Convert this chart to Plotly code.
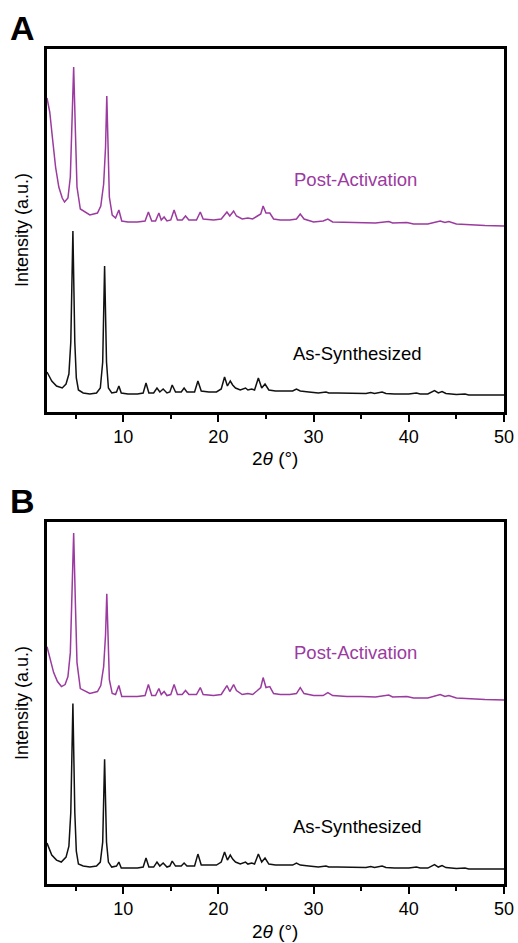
import plotly.graph_objects as go

# ---------------- data (2theta in degrees, intensity in a.u.) ----------------
a_syn_x = [2.0, 2.5, 3.0, 3.6, 4.0, 4.3, 4.5, 4.72, 4.92, 5.08, 5.3, 5.8, 6.5, 7.2, 7.6, 7.85, 8.05, 8.25, 8.45, 8.8,
           9.3, 9.55, 9.8, 10.5, 11.5, 12.1, 12.4, 12.7, 13.2, 13.55, 13.85, 14.2, 14.6, 14.9, 15.15, 15.5, 16.1, 16.4,
           16.7, 17.5, 17.85, 18.2, 19.0, 19.8, 20.3, 20.65, 20.95, 21.25, 21.5, 21.8, 22.3, 22.85, 23.1, 23.5, 23.8,
           24.2, 24.55, 24.9, 25.3, 26.0, 27.0, 27.8, 28.2, 28.6, 29.5, 30.5, 31.3, 31.6, 32.5, 34.0, 35.5, 36.0, 36.4,
           37.2, 37.6, 38.5, 40.0, 40.8, 41.2, 42.0, 42.7, 43.1, 43.5, 43.9, 45.0, 45.9, 46.3, 48.0, 50.0]
a_syn_y = [40, 31, 26, 24, 28, 38, 70, 181, 70, 34, 22, 19, 18, 19, 24, 50, 146, 50, 24, 19,
           20, 26, 19, 18, 18, 19, 29, 19, 19, 24, 20, 23, 19, 20, 27, 20, 20, 24,
           20, 20, 31, 21, 20, 20, 23, 35, 26, 31, 27, 24, 22, 24, 22, 23, 22,
           34, 24, 28, 22, 21, 21, 21, 23, 21, 20, 19, 20, 19, 19, 18.5, 18.5, 19.5, 18.5,
           20, 18.5, 18, 18, 19, 18, 18, 21.5, 19, 20.5, 18.5, 17.5, 18, 17, 17, 17]

a_act_x = [2.0, 2.29, 2.55, 2.9, 3.24, 3.6, 3.84, 4.2, 4.45, 4.6, 4.8, 5.0, 5.15, 5.5, 6.5, 7.3, 7.65, 7.95, 8.15, 8.28,
           8.42, 8.55, 8.85, 9.2, 9.55, 9.85, 10.5, 11.5, 12.3, 12.65, 13.0, 13.4, 13.75, 14.0, 14.3, 14.6, 15.0, 15.35,
           15.7, 16.2, 16.55, 16.9, 17.7, 18.1, 18.4, 19.5, 20.3, 20.9, 21.2, 21.6, 21.9, 22.5, 23.1, 23.6, 24.1,
           24.45, 24.7, 25.0, 25.4, 25.8, 26.5, 27.5, 28.2, 28.6, 29.0, 30.0, 31.0, 31.5, 32.0, 33.5, 35.0, 36.5,
           37.9, 38.3, 39.8, 40.5, 42.0, 43.3, 43.8, 44.2, 45.0, 46.5, 48.0, 50.0]
a_act_y = [314, 300, 276, 245, 225, 214, 210, 214, 235, 275, 345, 275, 225, 203, 197, 199, 206, 228, 265, 316,
           262, 215, 197, 194, 202, 191, 190, 190, 191, 200, 191, 191, 199, 192, 195, 191, 192, 202,
           192, 192, 196, 192, 192, 200, 193, 192, 193, 200, 196, 201, 196, 193, 194, 193, 196,
           198, 206, 199, 199, 193, 192, 192, 193, 198, 193, 190, 191, 193, 190, 189.5, 189.5, 189,
           190.5, 189, 189.5, 188, 188, 191, 189.5, 190.5, 188, 187, 186.5, 186]

b_syn_x = [2.0, 2.5, 3.0, 3.5, 4.0, 4.3, 4.5, 4.72, 4.92, 5.08, 5.3, 5.8, 6.5, 7.2, 7.6, 7.85, 8.05, 8.25, 8.45, 8.8,
           9.3, 9.55, 9.8, 10.5, 11.5, 12.1, 12.4, 12.7, 13.2, 13.55, 13.85, 14.2, 14.6, 14.9, 15.15, 15.5, 16.1, 16.4,
           16.7, 17.5, 17.85, 18.2, 19.0, 19.8, 20.3, 20.65, 20.95, 21.25, 21.5, 21.8, 22.3, 22.85, 23.1, 23.5, 23.8,
           24.2, 24.55, 24.9, 25.3, 26.0, 27.0, 27.8, 28.2, 28.6, 29.5, 30.5, 31.3, 31.6, 32.5, 34.0, 35.5, 36.0, 36.4,
           37.2, 37.6, 38.5, 40.0, 40.8, 41.2, 42.0, 42.7, 43.1, 43.5, 43.9, 45.0, 45.9, 46.3, 48.0, 50.0]
b_syn_y = [41, 29, 24, 22, 27, 38, 72, 181, 72, 33, 20, 18, 17, 18, 22, 42, 125, 42, 22, 17,
           18, 22, 16, 16, 16, 17, 26, 17, 17, 22, 18, 21, 17, 18, 23, 18, 18, 21,
           18, 18, 30, 19, 19, 19, 22, 32, 24, 29, 25, 22, 20, 22, 20, 21, 20,
           30, 22, 26, 20, 19, 19, 19, 21, 19, 18, 17, 18, 17, 17, 16.5, 16.5, 17.5, 16.5,
           18, 16.5, 16, 16, 17, 16, 16, 19.5, 17, 18.5, 16.5, 15.5, 16, 15, 15, 15]

b_act_x = [2.0, 2.3, 2.7, 3.1, 3.52, 3.9, 4.2, 4.45, 4.6, 4.8, 5.0, 5.15, 5.5, 6.5, 7.3, 7.65, 7.95, 8.15, 8.28,
           8.42, 8.55, 8.85, 9.2, 9.55, 9.85, 10.5, 11.5, 12.3, 12.65, 13.0, 13.4, 13.75, 14.0, 14.3, 14.6, 15.0, 15.35,
           15.7, 16.2, 16.55, 16.9, 17.7, 18.1, 18.4, 19.5, 20.3, 20.9, 21.2, 21.6, 21.9, 22.5, 23.1, 23.6, 24.1,
           24.45, 24.7, 25.0, 25.4, 25.8, 26.5, 27.5, 28.2, 28.6, 29.0, 30.0, 31.0, 31.5, 32.0, 33.5, 35.0, 36.5,
           37.9, 38.3, 39.8, 40.5, 42.0, 43.3, 43.8, 44.2, 45.0, 46.5, 48.0, 50.0]
b_act_y = [238, 226, 212, 203, 198, 200, 208, 232, 275, 352, 275, 222, 196, 191, 193, 199, 218, 250, 291,
           245, 205, 191, 190, 199, 188, 188, 188, 189, 200, 189, 189, 196, 190, 193, 189, 190, 200,
           190, 190, 194, 190, 190, 197, 190, 189, 190, 199, 193, 200, 194, 190, 191, 190, 194,
           197, 207, 197, 198, 191, 190, 190, 191, 197, 191, 189, 189, 192, 189, 188, 188, 187.5,
           189.5, 187.5, 188, 186.5, 186.5, 190, 188, 189, 186.5, 185.5, 185, 184.5]

x_ticks = [10, 20, 30, 40, 50]
x_minor = [5, 15, 25, 35, 45]
purple = "#9b3a9f"
black = "#111111"
font_family = "Liberation Sans, Arial, sans-serif"

fig = go.Figure()
fig.add_trace(go.Scatter(x=a_act_x, y=a_act_y, mode="lines", line=dict(color=purple, width=1.5),
                         xaxis="x", yaxis="y", showlegend=False))
fig.add_trace(go.Scatter(x=a_syn_x, y=a_syn_y, mode="lines", line=dict(color=black, width=1.5),
                         xaxis="x", yaxis="y", showlegend=False))
fig.add_trace(go.Scatter(x=b_act_x, y=b_act_y, mode="lines", line=dict(color=purple, width=1.5),
                         xaxis="x2", yaxis="y2", showlegend=False))
fig.add_trace(go.Scatter(x=b_syn_x, y=b_syn_y, mode="lines", line=dict(color=black, width=1.5),
                         xaxis="x2", yaxis="y2", showlegend=False))

W, H = 518, 943
xd = [47 / W, 504 / W]
ya = [1 - 412 / H, 1 - 49 / H]
yb = [1 - 884 / H, 1 - 522 / H]

xcommon = dict(range=[2, 50], showline=True, linecolor="black", linewidth=2.5, mirror=True,
               ticks="outside", ticklen=7, tickwidth=2, tickcolor="black",
               tickvals=x_ticks, ticktext=[str(v) for v in x_ticks],
               minor=dict(tickvals=x_minor, ticks="outside", ticklen=4, tickwidth=2, tickcolor="black"),
               showgrid=False, zeroline=False, automargin=False,
               tickfont=dict(size=18, color="black", family=font_family),
               domain=xd)
ycommon = dict(range=[0, 363], showline=True, linecolor="black", linewidth=2.5, mirror=True,
               ticks="", showticklabels=False, showgrid=False, zeroline=False, automargin=False)

fig.update_layout(
    width=W, height=H, margin=dict(l=0, r=0, t=0, b=0, pad=0), autosize=False,
    paper_bgcolor="white", plot_bgcolor="white",
    xaxis=dict(xcommon, anchor="y"),
    yaxis=dict(ycommon, anchor="x", domain=ya),
    xaxis2=dict(xcommon, anchor="y2"),
    yaxis2=dict(ycommon, anchor="x2", domain=yb),
    font=dict(family=font_family, color="black"),
)

def px_x(p):
    return p / W

def px_y(p):
    return 1 - p / H

def note(text, x, y, size, color="black", angle=0):
    return dict(text=text, x=px_x(x), y=px_y(y), xref="paper", yref="paper",
                xanchor="center", yanchor="middle", showarrow=False, textangle=angle,
                font=dict(size=size, color=color, family=font_family))

ann = []
for lab, yy in [("A", 28), ("B", 501)]:
    ann.append(note("<b>" + lab + "</b>", 22, yy, 34))
for yc in [230, 703]:
    ann.append(note("Intensity (a.u.)", 22, yc, 18, angle=-90))
for yc in [459, 931]:
    ann.append(note("2<i>θ</i> (°)", 275, yc, 19))
for yc_p, yc_b in [(180, 353), (652, 826)]:
    ann.append(note("Post-Activation", 355, yc_p, 18.5, color=purple))
    ann.append(note("As-Synthesized", 357, yc_b, 18.5))
fig.update_layout(annotations=ann)

fig.write_html("out.html")
